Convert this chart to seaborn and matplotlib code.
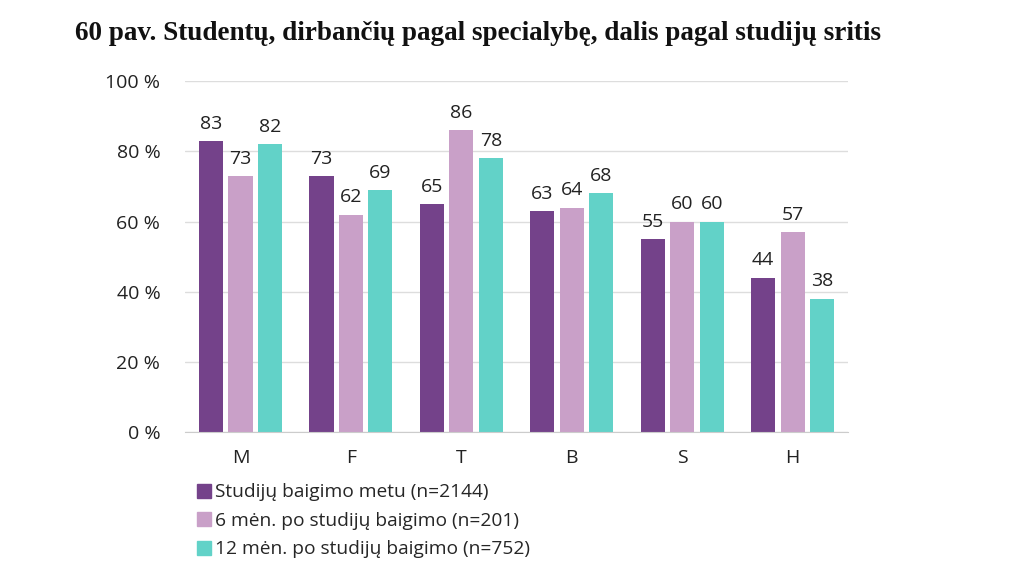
import pandas as pd
import numpy as np
import matplotlib.pyplot as plt
import seaborn as sns
from matplotlib.patches import Patch

# data
fields = ['M', 'F', 'T', 'B', 'S', 'H']
series = ['Studijų baigimo metu (n=2144)',
          '6 mėn. po studijų baigimo (n=201)',
          '12 mėn. po studijų baigimo (n=752)']
at_graduation = [83, 73, 65, 63, 55, 44]
after_6m = [73, 62, 86, 64, 60, 57]
after_12m = [82, 69, 78, 68, 60, 38]
colors = ['#74428A', '#C9A0C8', '#62D2C8']

sns.set_style('white')
plt.rcParams['font.family'] = ['Open Sans', 'DejaVu Sans']

df = pd.DataFrame({'field': fields * 3,
                   'group': [series[0]] * 6 + [series[1]] * 6 + [series[2]] * 6,
                   'value': at_graduation + after_6m + after_12m})

fig = plt.figure(figsize=(10.24, 5.8), dpi=100)
ax = fig.add_axes([0.181, 0.255, 0.647, 0.605])
sns.barplot(data=df, x='field', y='value', hue='group', palette=colors,
            width=0.8, gap=0.18, ax=ax, legend=False, saturation=1,
            linewidth=0, edgecolor='none')

for cont in ax.containers:
    ax.bar_label(cont, fmt='%d', padding=6, fontsize=14, color='#222222')

ax.set_ylim(0, 100)
ax.set_xlim(-0.5, 5.5)
ax.set_yticks(range(0, 101, 20))
ax.set_yticklabels([f'{v} %' for v in range(0, 101, 20)], fontsize=14, color='#222222')
ax.tick_params(axis='x', labelsize=14, colors='#222222', length=0, pad=12)
ax.tick_params(axis='y', length=0, pad=18)
ax.set_xlabel('')
ax.set_ylabel('')
ax.yaxis.grid(True, color='#DDDDDD', linewidth=1)
ax.set_axisbelow(True)
for s in ['top', 'right', 'left']:
    ax.spines[s].set_visible(False)
ax.spines['bottom'].set_color('#CCCCCC')

handles = [Patch(color=c) for c in colors]
fig.legend(handles, series, loc='upper left', bbox_to_anchor=(0.185, 0.18),
           frameon=False, fontsize=13.8, handlelength=0.75, handleheight=0.75,
           handletextpad=0.2, labelspacing=0.55, borderaxespad=0)

fig.text(0.073, 0.943, '60 pav. Studentų, dirbančių pagal specialybę, dalis pagal studijų sritis',
         family=['Liberation Serif', 'DejaVu Serif'], fontweight='bold', fontsize=19.5,
         va='center', ha='left', color='#111111')

fig.savefig('out.png', dpi=100)
